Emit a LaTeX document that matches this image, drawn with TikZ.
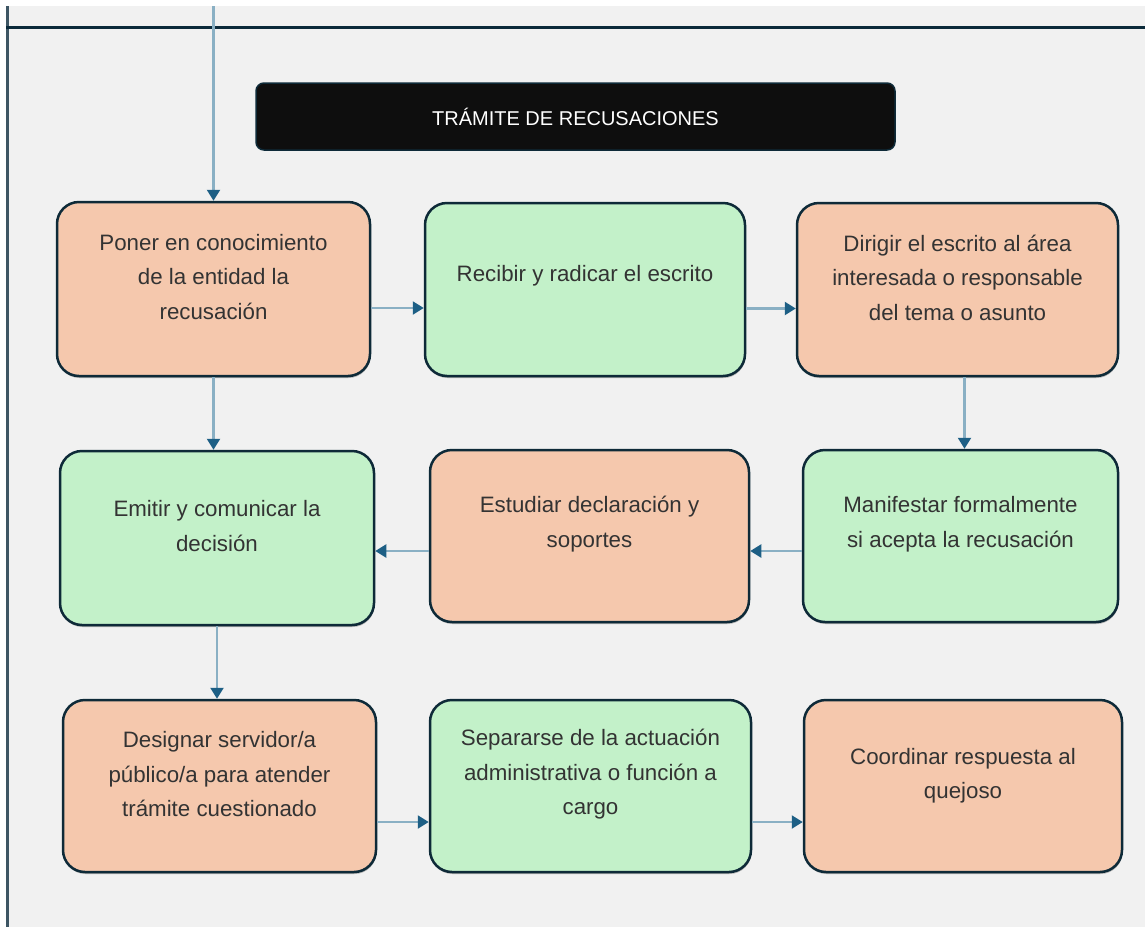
\documentclass[tikz,border=0pt]{standalone}
\usepackage{fontspec}
\setmainfont{Liberation Sans}
\usetikzlibrary{arrows.meta,shadows,calc}
\definecolor{bgc}{HTML}{F1F1F1}
\definecolor{peach}{HTML}{F5C8AD}
\definecolor{mint}{HTML}{C3F1C9}
\definecolor{edge}{HTML}{0E2A38}
\definecolor{rulec}{HTML}{0B2A3A}
\definecolor{sidec}{HTML}{3D5563}
\definecolor{linkc}{HTML}{8AB0C4}
\definecolor{tipc}{HTML}{1D5F85}
\definecolor{txtc}{HTML}{333333}
\definecolor{titlefill}{HTML}{0E0E0E}
\tikzset{
  box/.style={draw=edge, line width=2.5pt, rounded corners=22pt,
    drop shadow={shadow xshift=0.5pt, shadow yshift=-2pt, opacity=0.45, fill=black!60}},
  peachbox/.style={box, fill=peach},
  mintbox/.style={box, fill=mint},
  txt/.style={text=txtc, align=center, font=\fontsize{22.3}{34.5}\selectfont, inner sep=0pt},
  arr/.style={draw=linkc, line width=2.2pt, -{Triangle[width=13pt,length=11pt,color=tipc]}},
}
\begin{document}
\begin{tikzpicture}[x=1pt,y=-1pt]
\useasboundingbox (0,0) rectangle (1145,927);
\fill[white] (0,0) rectangle (1145,927);
\fill[bgc] (6,6) rectangle (1145,927);
\draw[sidec, line width=3pt] (7.5,6) -- (7.5,927);
\draw[rulec, line width=3pt] (6,27) -- (1145,27);

\node[draw=edge, fill=titlefill, line width=1.5pt, rounded corners=8pt,
      minimum width=639pt, minimum height=67pt, text=white,
      font=\fontsize{20}{24}\selectfont] (title) at (575.5,116.5) {TRÁMITE DE RECUSACIONES};

% row 1
\node[peachbox, minimum width=313pt, minimum height=174pt] (b1) at (213.5,289) {};
\node[mintbox, minimum width=320pt, minimum height=173pt] (b2) at (585,289.5) {};
\node[peachbox, minimum width=321pt, minimum height=173pt] (b3) at (957.5,289.5) {};
% row 2
\node[mintbox, minimum width=314pt, minimum height=174pt] (b4) at (217,538) {};
\node[peachbox, minimum width=319pt, minimum height=172pt] (b5) at (589.5,536) {};
\node[mintbox, minimum width=315pt, minimum height=172pt] (b6) at (960.5,536) {};
% row 3
\node[peachbox, minimum width=313pt, minimum height=172pt] (b7) at (219.5,786) {};
\node[mintbox, minimum width=321pt, minimum height=172pt] (b8) at (590.5,786) {};
\node[peachbox, minimum width=318pt, minimum height=172pt] (b9) at (963,786) {};

\node[txt] (t1) at ([yshift=12pt]b1.center) {Poner en conocimiento\\de la entidad la\\recusación};
\node[txt] (t2) at ([yshift=14pt]b2.center) {Recibir y radicar el escrito};
\node[txt] (t3) at ([yshift=12pt]b3.center) {Dirigir el escrito al área\\interesada o responsable\\del tema o asunto};
\node[txt] (t4) at ([yshift=12pt]b4.center) {Emitir y comunicar la\\decisión};
\node[txt] (t5) at ([yshift=12pt]b5.center) {Estudiar declaración y\\soportes};
\node[txt] (t6) at ([yshift=12pt]b6.center) {Manifestar formalmente\\si acepta la recusación};
\node[txt] (t7) at ([yshift=11.5pt]b7.center) {Designar servidor/a\\público/a para atender\\trámite cuestionado};
\node[txt] (t8) at ([yshift=11.5pt]b8.center) {Separarse de la actuación\\administrativa o función a\\cargo};
\node[txt] (t9) at ([yshift=10.5pt]b9.center) {Coordinar respuesta al\\quejoso};

\coordinate (top) at (213.5,6);
\draw[arr] (top) -- (b1.north);
\draw[arr] ([yshift=-19pt]b1.east) -- ([yshift=-19pt]b1.east -| b2.west);
\draw[arr] ([yshift=-19pt]b2.east) -- ([yshift=-19pt]b2.east -| b3.west);
\draw[arr] ([xshift=7pt]b3.south) -- ([xshift=7pt]b3.south |- b6.north);
\draw[arr] ([yshift=-15pt]b6.west) -- ([yshift=-15pt]b6.west -| b5.east);
\draw[arr] ([yshift=-15pt]b5.west) -- ([yshift=-15pt]b5.west -| b4.east);
\draw[arr] (b1.south) -- (b1.south |- b4.north);
\draw[arr] (b4.south) -- (b4.south |- b7.north);
\draw[arr] ([yshift=-36pt]b7.east) -- ([yshift=-36pt]b7.east -| b8.west);
\draw[arr] ([yshift=-36pt]b8.east) -- ([yshift=-36pt]b8.east -| b9.west);
\end{tikzpicture}
\end{document}
